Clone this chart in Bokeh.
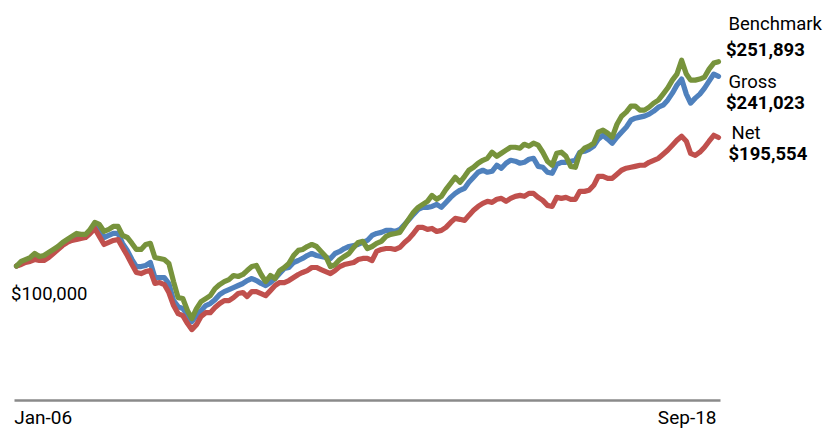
import pandas as pd
from bokeh.plotting import figure
from bokeh.models import Range1d
from bokeh.core.properties import value
from bokeh.embed import file_html
from bokeh.resources import INLINE

# Monthly growth of $100,000, Jan-06 .. Sep-18 (values in $ thousands)
dates = pd.date_range("2006-01-01", periods=153, freq="MS")

benchmark = [
    100.0, 103.4, 104.8, 106.3, 109.3, 107.1, 107.8, 110.1, 112.3, 114.5,
    117.5, 119.7, 122.0, 124.2, 123.5, 123.5, 127.2, 132.4, 130.9, 125.7,
    127.2, 129.4, 129.4, 122.7, 121.2, 116.8, 112.3, 112.3, 116.0, 116.8,
    106.3, 105.6, 104.8, 101.9, 88.4, 76.5, 75.8, 66.8, 60.9, 68.3,
    73.5, 75.8, 78.0, 83.2, 86.2, 88.4, 89.9, 92.9, 92.2, 93.7,
    96.6, 99.6, 100.4, 93.7, 88.4, 92.9, 90.7, 96.6, 98.9, 101.9,
    107.8, 111.6, 112.3, 114.5, 116.0, 114.5, 110.8, 107.1, 99.6, 101.1,
    104.8, 107.1, 109.3, 113.8, 117.5, 118.3, 113.0, 114.5, 116.8, 118.3,
    122.0, 123.5, 124.2, 125.0, 130.2, 135.4, 139.9, 143.6, 145.8, 148.1,
    152.5, 149.6, 151.8, 157.0, 161.5, 166.0, 162.2, 166.7, 171.2, 173.4,
    176.4, 178.6, 180.1, 184.6, 181.6, 183.8, 186.1, 188.3, 188.3, 187.6,
    190.5, 189.1, 191.3, 189.8, 184.6, 177.9, 174.9, 183.8, 184.6, 181.6,
    174.1, 173.4, 183.8, 187.6, 189.1, 191.3, 199.5, 201.0, 198.7, 195.8,
    205.4, 211.4, 214.4, 218.9, 218.9, 215.9, 215.9, 218.1, 221.1, 223.3,
    227.8, 232.3, 238.2, 242.7, 253.0, 242.7, 238.2, 238.2, 239.0, 240.5,
    246.4, 250.9, 251.893,
]

gross = [
    100.0, 101.9, 103.4, 104.8, 107.1, 105.6, 105.6, 107.8, 110.8, 113.8,
    116.8, 119.0, 120.5, 122.0, 122.0, 122.7, 125.7, 130.2, 125.7, 121.2,
    122.7, 124.2, 124.2, 116.8, 111.6, 104.8, 99.6, 99.6, 100.4, 102.6,
    91.4, 91.4, 91.4, 87.0, 74.3, 69.8, 68.3, 63.9, 58.6, 63.1,
    66.8, 70.6, 72.1, 75.0, 78.8, 81.0, 82.5, 84.0, 85.5, 87.0,
    89.2, 90.7, 89.2, 87.0, 85.5, 87.7, 90.7, 94.4, 98.1, 98.9,
    102.6, 104.1, 105.6, 107.8, 109.3, 107.8, 107.1, 106.3, 105.6, 109.3,
    110.8, 113.0, 114.5, 115.3, 116.0, 117.5, 119.0, 122.7, 124.2, 125.0,
    126.5, 126.5, 125.7, 127.2, 130.9, 134.7, 138.4, 142.1, 143.6, 143.6,
    144.3, 145.8, 143.6, 147.3, 151.0, 154.0, 156.3, 157.8, 162.2, 166.0,
    169.7, 171.2, 169.7, 170.4, 174.9, 172.7, 176.4, 178.6, 177.9, 176.4,
    177.1, 179.4, 180.1, 174.1, 173.4, 169.7, 168.9, 175.6, 177.1, 177.1,
    177.9, 178.6, 184.6, 185.3, 186.8, 189.1, 194.3, 197.2, 194.3, 191.3,
    195.8, 199.5, 203.2, 208.4, 209.9, 210.7, 211.4, 212.9, 215.1, 218.1,
    219.6, 223.3, 228.5, 234.5, 239.0, 227.8, 221.1, 224.8, 227.8, 232.3,
    237.5, 242.7, 241.023,
]

net = [
    100.0, 101.1, 102.6, 103.4, 104.8, 104.1, 104.1, 106.3, 109.3, 112.3,
    115.3, 117.5, 119.0, 119.7, 120.5, 121.2, 124.2, 127.9, 122.0, 116.0,
    117.5, 119.0, 119.7, 113.8, 107.8, 101.1, 95.2, 94.4, 95.9, 96.6,
    87.0, 87.7, 86.2, 80.3, 70.6, 64.6, 63.1, 57.2, 52.7, 56.4,
    62.4, 65.3, 65.3, 69.1, 72.1, 74.3, 74.3, 76.5, 79.5, 80.3,
    77.3, 81.0, 81.0, 79.5, 78.0, 81.7, 85.5, 87.7, 87.7, 89.2,
    91.4, 93.7, 95.2, 96.6, 98.9, 98.9, 97.4, 95.9, 94.4, 96.6,
    99.6, 101.1, 101.9, 102.6, 104.8, 105.6, 105.6, 104.1, 110.8, 112.3,
    113.0, 113.0, 112.3, 113.8, 117.5, 120.5, 124.2, 128.7, 128.7, 127.2,
    127.9, 125.7, 126.5, 128.7, 132.4, 135.4, 134.7, 133.9, 137.6, 141.4,
    144.3, 146.6, 148.1, 147.3, 149.6, 150.3, 148.1, 150.3, 151.8, 152.5,
    151.8, 154.0, 154.0, 151.0, 148.8, 145.1, 144.3, 151.0, 150.3, 151.0,
    149.6, 149.6, 155.5, 155.5, 156.3, 160.0, 166.7, 166.7, 165.2, 165.2,
    168.2, 171.2, 172.7, 173.4, 174.1, 174.9, 174.9, 177.1, 178.6, 180.1,
    183.1, 186.1, 189.8, 193.5, 196.5, 192.8, 183.8, 182.3, 184.6, 188.3,
    192.8, 197.2, 195.554,
]

series_names = ["Benchmark", "Gross", "Net"]
final_values = [251893, 241023, 195554]
start_value = 100000
tick_labels = ["Jan-06", "Sep-18"]

GREEN = "#77933C"
BLUE = "#4F81BD"
RED = "#C0504D"
FONT = value("Roboto")
FS = value("18.5px")

# one pixel of the plotting area is about 6.59 days
day_px = pd.Timedelta(days=6.59)
first = dates[0]
last = dates[-1]

p = figure(
    width=825, height=430,
    x_axis_location=None, y_axis_location=None,
    output_backend="svg", toolbar_location=None,
    min_border=0, min_border_left=0, min_border_right=0,
    min_border_top=0, min_border_bottom=0,
    x_range=Range1d((first - 16 * day_px).to_pydatetime(),
                    (last + 107 * day_px).to_pydatetime()),
    y_range=Range1d(-22.3, 297.4),
)
p.grid.visible = False
p.outline_line_color = None
p.background_fill_color = "white"
p.border_fill_color = "white"

# baseline (x axis line) across the date span
p.segment(x0=[first - 2 * day_px], y0=[0], x1=[last + 2 * day_px], y1=[0],
          line_color="#8a8a8a", line_width=2.6)

lw = 5.2
p.line(dates, gross, line_color=BLUE, line_width=lw, line_join="round", line_cap="round")
p.line(dates, net, line_color=RED, line_width=lw, line_join="round", line_cap="round")
p.line(dates, benchmark, line_color=GREEN, line_width=lw, line_join="round", line_cap="round")


def lab(x, y, text, xo, yo, bold=False, align="left", size=FS):
    p.text(x=[x], y=[y], text=[text], x_offset=xo, y_offset=yo,
           text_font=FONT, text_font_size=size,
           text_font_style="bold" if bold else "normal",
           text_color="#000000", text_align=align, text_baseline="alphabetic")


series = [benchmark, gross, net]
name_off = [(10, -37.5), (10, 5.4), (13, -4.7)]
val_off = [(7.5, -11.5), (7.5, 27.1), (10, 17)]
for s, name, fv, no, vo in zip(series, series_names, final_values, name_off, val_off):
    lab(last, s[-1], name, no[0], no[1])
    lab(last, s[-1], f"${fv:,}", vo[0], vo[1], bold=True)

lab(first, start_value / 1000, f"${start_value:,}", -5.5, 27.5)
lab(first, 0, tick_labels[0], -2.3, 17, size=value("19px"))
lab(last, 0, tick_labels[1], -2, 17, align="right", size=value("19px"))

open("out.html", "w").write(file_html(p, INLINE))
